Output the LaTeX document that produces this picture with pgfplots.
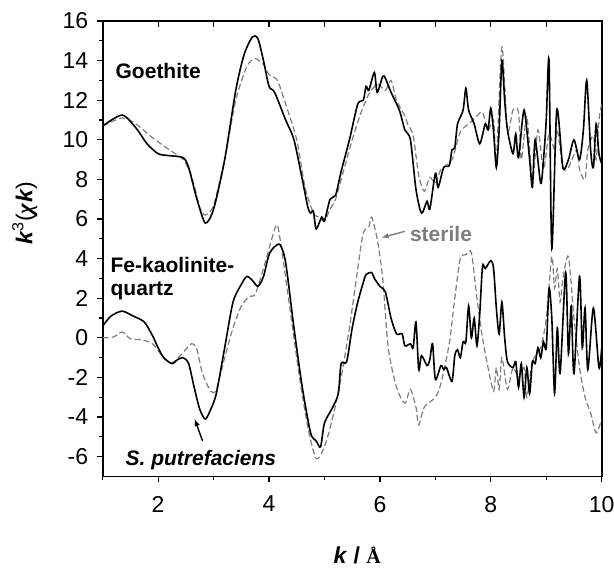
\documentclass[border=0pt]{standalone}
\usepackage{fontspec}
\setmainfont{Liberation Sans}
\newfontfamily\serifb{Liberation Serif}
\usepackage{pgfplots}
\pgfplotsset{compat=1.18}
\definecolor{dgray}{RGB}{125,125,125}
\begin{document}
\begin{tikzpicture}
\useasboundingbox (-102.7pt,-95.5pt) rectangle (511.3pt,476.5pt);
\begin{axis}[
 at={(0pt,0pt)}, anchor=south west,
 scale only axis, width=499pt, height=455.5pt,
 xmin=1, xmax=10, ymin=-7, ymax=16,
 xtick={2,4,6,8,10}, minor xtick={1,3,5,7,9},
 ytick={-6,-4,...,16}, minor ytick={-5,-3,...,15},
 xtick pos=bottom, ytick pos=left, tick align=outside,
 major tick length=6pt, minor tick length=4pt,
 tick style={line width=1.2pt, black},
 axis line style={line width=1.7pt},
 ticklabel style={font=\fontsize{23}{26}\selectfont},
 /pgf/number format/assume math mode=true,
 xticklabel style={yshift=-10pt},
 yticklabel style={xshift=-5pt},
 xlabel={\textbf{\textit{k}} \textbf{/} {\serifb\bfseries\fontsize{20}{22}\selectfont Å}},
 xlabel style={at={(rel axis cs:0.51,0)}, anchor=center, inner sep=0pt, yshift=-79pt, font=\fontsize{23}{25}\selectfont},
 ylabel={\textbf{\textit{k}}\textsuperscript{3}({\serifb\itshape\bfseries χ}\textbf{\textit{k}})},
 ylabel style={at={(rel axis cs:0,0.578)}, anchor=center, yshift=78pt, font=\fontsize{23}{26}\selectfont},
 every axis plot/.append style={smooth, tension=0.45},
]
% Goethite sterile (dashed)
\addplot[dgray, line width=1.2pt, dash pattern=on 6pt off 3pt] coordinates {
(1.0,10.7)(1.35,11.1)(1.6,10.8)(1.9,10.1)(2.2,9.5)(2.45,9.0)(2.6,8.2)(2.75,6.6)(2.85,6.2)(3.0,6.7)
(3.2,9.0)(3.4,12.0)(3.6,13.7)(3.75,14.1)(3.9,13.8)(4.0,13.3)(4.15,13.0)(4.3,11.8)(4.5,10.0)(4.65,7.6)
(4.8,6.3)(4.9,6.1)(5.0,5.9)(5.1,6.5)(5.2,7.0)(5.35,8.5)(5.5,10.0)(5.65,11.3)(5.8,12.3)(5.95,12.8)
(6.1,12.5)(6.2,13.0)(6.3,12.0)(6.45,11.2)(6.5,10.8)(6.6,10.2)(6.7,8.2)(6.8,7.4)(6.9,8.1)(7.0,7.8)
(7.1,8.5)(7.3,9.0)(7.45,10.4)(7.6,10.8)(7.75,11.2)(7.85,11.4)(7.95,10.5)(8.05,11.0)(8.1,9.0)(8.2,14.7)
(8.3,10.5)(8.4,11.5)(8.5,11.4)(8.55,9.0)(8.65,11.2)(8.75,8.0)(8.85,10.5)(8.95,8.5)(9.05,10.3)(9.15,9.5)
(9.2,10.5)(9.3,8.6)(9.4,8.6)(9.55,9.5)(9.6,8.5)(9.7,8.0)(9.75,9.5)(9.85,10.2)(9.9,9.0)(9.95,11.0)(10.0,11.8)
};
% Goethite S. putrefaciens (solid)
\addplot[black, line width=1.6pt] coordinates {
(1.0,10.7)(1.35,11.25)(1.6,10.6)(1.8,9.8)(2.0,9.3)(2.2,9.2)(2.45,9.1)(2.55,8.6)(2.7,7.0)(2.85,5.8)
(3.0,6.5)(3.2,9.0)(3.4,12.5)(3.55,14.3)(3.7,15.2)(3.8,15.1)(3.9,14.0)(4.0,12.7)(4.1,12.4)(4.3,11.0)
(4.45,10.0)(4.6,8.0)(4.7,6.6)(4.75,6.3)(4.8,6.4)(4.85,5.5)(4.95,6.1)(5.0,5.9)(5.1,7.0)(5.2,7.2)
(5.3,8.4)(5.45,10.0)(5.6,11.8)(5.7,12.0)(5.75,12.7)(5.8,12.5)(5.9,13.4)(5.95,12.4)(6.05,13.2)(6.1,13.1)
(6.2,12.4)(6.35,11.5)(6.45,10.5)(6.55,10.0)(6.65,7.5)(6.75,6.3)(6.85,6.9)(6.9,6.5)(7.0,8.3)(7.05,7.6)
(7.15,8.6)(7.25,8.7)(7.3,9.5)(7.35,9.6)(7.4,10.8)(7.5,11.5)(7.55,12.6)(7.6,11.5)(7.7,10.8)(7.8,9.8)
(7.9,10.8)(7.95,10.5)(8.0,11.6)(8.05,10.4)(8.1,8.6)(8.15,10.5)(8.2,14.0)(8.25,12.0)(8.3,10.5)(8.4,9.3)
(8.45,10.3)(8.5,9.1)(8.6,11.5)(8.7,9.0)(8.75,7.6)(8.8,10.0)(8.9,7.8)(8.95,9.0)(9.0,11.0)(9.05,14.0)
(9.1,4.5)(9.19,11.5)(9.3,8.6)(9.4,9.0)(9.5,10.0)(9.6,9.0)(9.67,10.5)(9.73,13.0)(9.8,9.5)(9.85,8.6)
(9.9,10.8)(9.95,9.3)(10.0,8.8)
};
% Fe-kaolinite-quartz sterile (dashed)
\addplot[dgray, line width=1.2pt, dash pattern=on 6pt off 3pt] coordinates {
(1.0,0.0)(1.2,0.05)(1.35,0.3)(1.5,-0.05)(1.7,-0.1)(1.9,-0.3)(2.1,-1.0)(2.25,-1.25)(2.4,-0.9)(2.6,-0.3)
(2.7,-0.6)(2.8,-1.8)(2.95,-2.7)(3.05,-2.6)(3.2,-1.0)(3.35,0.5)(3.5,1.6)(3.65,2.1)(3.75,2.2)(3.9,3.5)
(4.05,5.0)(4.15,5.7)(4.25,4.0)(4.4,1.0)(4.55,-2.0)(4.7,-4.5)(4.85,-6.1)(5.0,-5.5)(5.15,-4.0)(5.3,-2.0)
(5.45,0.5)(5.6,3.5)(5.7,5.3)(5.8,5.6)(5.85,6.1)(5.95,5.0)(6.05,3.0)(6.15,-0.5)(6.3,-2.5)(6.45,-3.3)
(6.55,-2.6)(6.65,-3.5)(6.7,-4.4)(6.8,-3.5)(7.0,-3.0)(7.1,-2.3)(7.25,-0.3)(7.35,2.0)(7.45,4.0)(7.55,4.2)
(7.65,4.3)(7.75,2.0)(7.85,0.0)(7.95,-1.5)(8.05,-2.7)(8.1,-1.5)(8.15,-2.6)(8.2,-1.0)(8.3,-2.6)(8.4,-1.5)
(8.5,-2.0)(8.6,-1.5)(8.65,-3.0)(8.75,-1.2)(8.9,-0.5)(9.0,1.0)(9.1,4.1)(9.15,2.5)(9.2,3.5)(9.25,1.8)
(9.3,3.0)(9.4,4.1)(9.5,1.0)(9.6,-1.5)(9.7,-3.0)(9.8,-3.8)(9.9,-4.8)(10.0,-4.1)
};
% Fe-kaolinite-quartz S. putrefaciens (solid)
\addplot[black, line width=1.6pt] coordinates {
(1.0,0.6)(1.15,1.1)(1.35,1.35)(1.55,1.1)(1.75,0.8)(1.9,0.1)(2.0,-0.5)(2.1,-1.0)(2.25,-1.3)(2.35,-1.1)
(2.45,-1.0)(2.55,-1.3)(2.65,-2.5)(2.75,-3.6)(2.85,-4.1)(2.95,-3.6)(3.05,-2.8)(3.2,-0.5)(3.35,1.8)(3.5,2.7)
(3.6,3.1)(3.7,2.9)(3.8,2.6)(3.9,3.1)(4.0,4.2)(4.1,4.6)(4.2,4.7)(4.3,3.8)(4.45,0.5)(4.6,-2.5)
(4.75,-4.8)(4.85,-5.2)(4.93,-5.5)(5.0,-4.3)(5.15,-3.5)(5.25,-2.8)(5.3,-1.3)(5.4,-1.2)(5.5,0.5)(5.6,1.8)
(5.7,2.8)(5.75,3.2)(5.85,3.3)(5.9,3.0)(6.0,2.6)(6.1,2.3)(6.2,1.0)(6.3,0.2)(6.4,0.2)(6.45,-0.4)
(6.55,-0.3)(6.6,-0.5)(6.65,0.8)(6.7,-1.6)(6.75,-0.9)(6.85,-1.4)(6.9,-1.1)(6.95,-0.3)(7.0,-2.1)(7.1,-1.4)
(7.15,-1.6)(7.2,-1.5)(7.3,-2.2)(7.35,-0.9)(7.4,-0.6)(7.45,-1.0)(7.5,-0.2)(7.55,-0.2)(7.6,1.6)(7.65,0.0)
(7.7,1.0)(7.75,-0.4)(7.8,1.2)(7.85,3.6)(7.9,3.5)(8.0,3.9)(8.05,3.5)(8.1,1.5)(8.15,0.2)(8.2,1.8)
(8.25,0.0)(8.3,-1.2)(8.4,-1.5)(8.45,-1.2)(8.5,-2.5)(8.55,-1.3)(8.6,-3.0)(8.65,-1.5)(8.7,-2.8)(8.75,-1.2)
(8.8,-1.3)(8.85,-0.5)(8.9,-1.0)(8.95,-0.2)(9.0,-0.5)(9.05,2.5)(9.1,1.0)(9.15,-2.8)(9.2,0.5)(9.25,-1.8)
(9.35,3.3)(9.4,-0.8)(9.45,1.6)(9.5,-1.8)(9.6,3.1)(9.65,-0.5)(9.7,1.5)(9.75,-1.6)(9.85,1.5)(9.95,-1.5)(10.0,-0.5)
};
\node[anchor=west, font=\fontsize{21}{24}\selectfont\bfseries] at (axis cs:1.17,13.5) {Goethite};
\node[anchor=west, font=\fontsize{21}{24}\selectfont\bfseries] at (axis cs:1.08,3.66) {Fe-kaolinite-};
\node[anchor=west, font=\fontsize{21}{24}\selectfont\bfseries] at (axis cs:1.08,2.39) {quartz};
\node[anchor=west, font=\fontsize{21}{24}\selectfont\bfseries\itshape] at (axis cs:1.35,-6.15) {S. putrefaciens};
\node[anchor=west, text=dgray, font=\fontsize{21}{24}\selectfont\bfseries] at (axis cs:6.48,5.26) {sterile};
\draw[-latex, line width=1.4pt, black] (axis cs:2.80,-5.2) -- (axis cs:2.66,-4.1);
\draw[-latex, line width=1.4pt, dgray] (axis cs:6.45,5.38) -- (axis cs:6.03,5.06);
\end{axis}
\begin{axis}[
 at={(0pt,0pt)}, anchor=south west,
 scale only axis, width=499pt, height=455.5pt,
 xmin=1, xmax=10, ymin=-7, ymax=16,
 axis x line*=top, axis y line=none,
 xtick={1,2,...,10}, xticklabels={},
 tick align=inside, major tick length=6pt,
 tick style={line width=1.2pt, black},
 axis line style={line width=1.7pt, -},
]
\end{axis}
\end{tikzpicture}
\end{document}
